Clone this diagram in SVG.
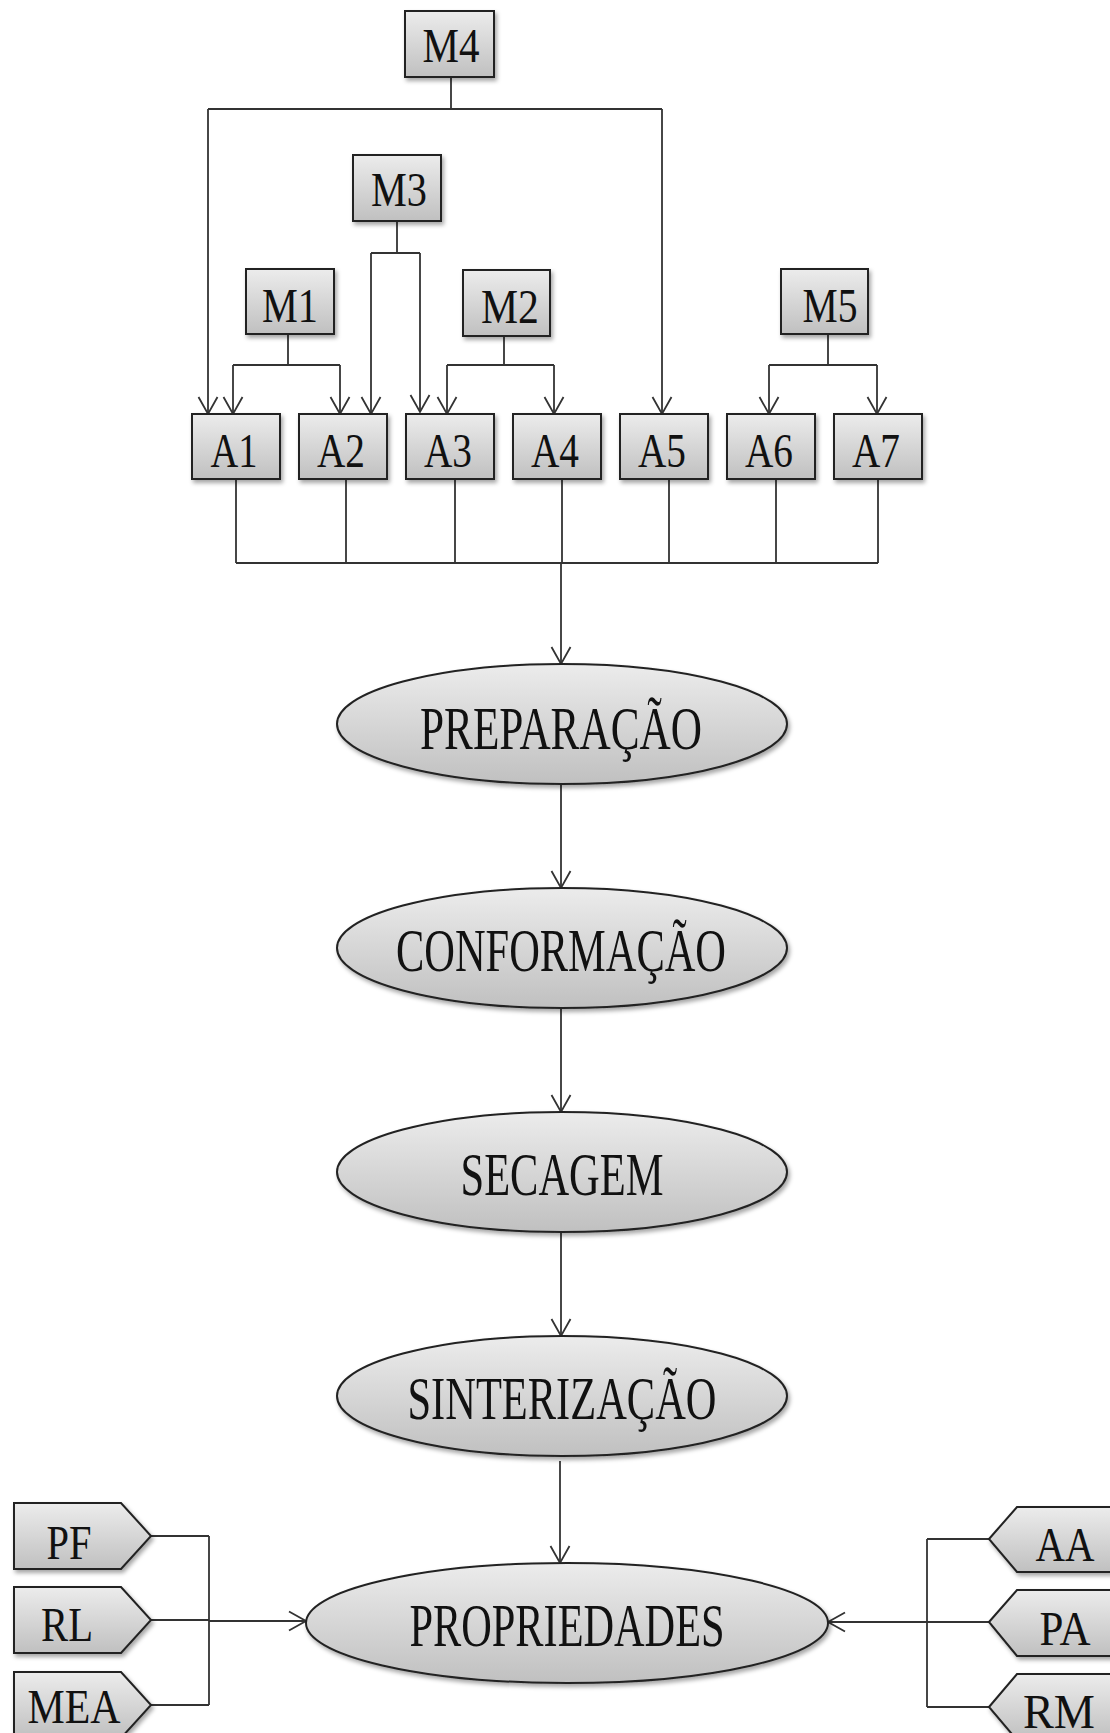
<svg xmlns="http://www.w3.org/2000/svg" width="1110" height="1733" viewBox="0 0 1110 1733">
<style>
.box{fill:url(#g);stroke:#222;stroke-width:2;filter:url(#sh)}
.ell{fill:url(#g);stroke:#222;stroke-width:2;filter:url(#sh)}
.t{font-family:"Liberation Serif","Times New Roman",serif;font-size:49px;fill:#111;text-anchor:middle}
.te{font-family:"Liberation Serif","Times New Roman",serif;font-size:62px;fill:#111;text-anchor:middle}
.c{fill:none;stroke:#333;stroke-width:1.8}
.a{fill:none;stroke:#333;stroke-width:1.8;marker-end:url(#ar)}
</style>
<defs>
<linearGradient id="g" x1="0" y1="0" x2="0" y2="1">
<stop offset="0" stop-color="#ececec"/>
<stop offset="1" stop-color="#c0c0c0"/>
</linearGradient>
<filter id="sh" x="-10%" y="-10%" width="130%" height="140%">
<feDropShadow dx="2" dy="3" stdDeviation="2" flood-color="#000" flood-opacity="0.35"/>
</filter>
<marker id="ar" markerUnits="userSpaceOnUse" markerWidth="20" markerHeight="22" viewBox="0 0 20 22" refX="18" refY="11" orient="auto">
<path d="M1,1.5 L18,11 L1,20.5" fill="none" stroke="#333" stroke-width="1.8"/>
</marker>
</defs>
<rect width="1110" height="1733" fill="#fff"/>

<g id="connectors">
<path class="c" d="M451,77 V109 M208,109 H662"/>
<path class="a" d="M208,109 V414"/>
<path class="a" d="M662,109 V414"/>
<path class="c" d="M397,221 V253 M371,253 H420"/>
<path class="a" d="M371,253 V414"/>
<path class="a" d="M420,253 V412"/>
<path class="c" d="M288,334 V365 M233,365 H340"/>
<path class="a" d="M233,365 V414"/>
<path class="a" d="M340,365 V414"/>
<path class="c" d="M504,336 V365 M447,365 H554"/>
<path class="a" d="M447,365 V414"/>
<path class="a" d="M554,365 V414"/>
<path class="c" d="M828,334 V365 M769,365 H877"/>
<path class="a" d="M769,365 V414"/>
<path class="a" d="M877,365 V414"/>
<path class="c" d="M236,479 V563 M346,479 V563 M455,479 V563 M562,479 V563 M669,479 V563 M776,479 V563 M878,479 V563 M236,563 H878"/>
<path class="a" d="M561,563 V664"/>
<path class="a" d="M561,784 V888"/>
<path class="a" d="M561,1008 V1112"/>
<path class="a" d="M561,1232 V1336"/>
<path class="a" d="M560,1461 V1563"/>
<path class="c" d="M151,1536 H209 M151,1620 H209 M151,1705 H209 M209,1536 V1705"/>
<path class="a" d="M209,1621 H306"/>
<path class="c" d="M989,1539 H927 M989,1622 H927 M989,1707 H927 M927,1539 V1707"/>
<path class="a" d="M927,1622 H828"/>
</g>

<g id="M4"><rect class="box" x="405" y="11" width="89" height="66"/><text class="t" x="451" y="62" textLength="57" lengthAdjust="spacingAndGlyphs">M4</text></g>
<g id="M3"><rect class="box" x="353" y="155" width="88" height="66"/><text class="t" x="399" y="206" textLength="56" lengthAdjust="spacingAndGlyphs">M3</text></g>
<g id="M1"><rect class="box" x="246" y="269" width="88" height="65"/><text class="t" x="290" y="322" textLength="56" lengthAdjust="spacingAndGlyphs">M1</text></g>
<g id="M2"><rect class="box" x="463" y="270" width="87" height="66"/><text class="t" x="510" y="323" textLength="58" lengthAdjust="spacingAndGlyphs">M2</text></g>
<g id="M5"><rect class="box" x="781" y="269" width="87" height="65"/><text class="t" x="830" y="322" textLength="55" lengthAdjust="spacingAndGlyphs">M5</text></g>

<g id="A1"><rect class="box" x="192" y="414" width="88" height="65"/><text class="t" x="234" y="467" textLength="47" lengthAdjust="spacingAndGlyphs">A1</text></g>
<g id="A2"><rect class="box" x="299" y="414" width="88" height="65"/><text class="t" x="341" y="467" textLength="48" lengthAdjust="spacingAndGlyphs">A2</text></g>
<g id="A3"><rect class="box" x="406" y="414" width="88" height="65"/><text class="t" x="448" y="467" textLength="48" lengthAdjust="spacingAndGlyphs">A3</text></g>
<g id="A4"><rect class="box" x="513" y="414" width="88" height="65"/><text class="t" x="555" y="467" textLength="48" lengthAdjust="spacingAndGlyphs">A4</text></g>
<g id="A5"><rect class="box" x="620" y="414" width="88" height="65"/><text class="t" x="662" y="467" textLength="48" lengthAdjust="spacingAndGlyphs">A5</text></g>
<g id="A6"><rect class="box" x="727" y="414" width="88" height="65"/><text class="t" x="769" y="467" textLength="48" lengthAdjust="spacingAndGlyphs">A6</text></g>
<g id="A7"><rect class="box" x="834" y="414" width="88" height="65"/><text class="t" x="876" y="467" textLength="48" lengthAdjust="spacingAndGlyphs">A7</text></g>

<g id="PREPARACAO"><ellipse class="ell" cx="562" cy="724" rx="225" ry="60"/><text class="te" x="561" y="749" textLength="282" lengthAdjust="spacingAndGlyphs">PREPARAÇÃO</text></g>
<g id="CONFORMACAO"><ellipse class="ell" cx="562" cy="948" rx="225" ry="60"/><text class="te" x="561" y="971" textLength="330" lengthAdjust="spacingAndGlyphs">CONFORMAÇÃO</text></g>
<g id="SECAGEM"><ellipse class="ell" cx="562" cy="1172" rx="225" ry="60"/><text class="te" x="562" y="1195" textLength="203" lengthAdjust="spacingAndGlyphs">SECAGEM</text></g>
<g id="SINTERIZACAO"><ellipse class="ell" cx="562" cy="1396" rx="225" ry="60"/><text class="te" x="562" y="1419" textLength="309" lengthAdjust="spacingAndGlyphs">SINTERIZAÇÃO</text></g>
<g id="PROPRIEDADES"><ellipse class="ell" cx="567" cy="1623" rx="261" ry="60"/><text class="te" x="567" y="1646" textLength="315" lengthAdjust="spacingAndGlyphs">PROPRIEDADES</text></g>

<g id="PF"><polygon class="box" points="14,1503 121,1503 151,1536 121,1569 14,1569"/><text class="t" x="69" y="1559" textLength="45" lengthAdjust="spacingAndGlyphs">PF</text></g>
<g id="RL"><polygon class="box" points="14,1587 121,1587 151,1620 121,1653 14,1653"/><text class="t" x="67" y="1641" textLength="52" lengthAdjust="spacingAndGlyphs">RL</text></g>
<g id="MEA"><polygon class="box" points="14,1672 121,1672 151,1705 121,1738 14,1738"/><text class="t" x="74" y="1723" textLength="93" lengthAdjust="spacingAndGlyphs">MEA</text></g>

<g id="AA"><polygon class="box" points="989,1539 1017,1507 1126,1507 1126,1572 1017,1572"/><text class="t" x="1065" y="1561" textLength="59" lengthAdjust="spacingAndGlyphs">AA</text></g>
<g id="PA"><polygon class="box" points="989,1622 1017,1590 1126,1590 1126,1656 1017,1656"/><text class="t" x="1065" y="1645" textLength="51" lengthAdjust="spacingAndGlyphs">PA</text></g>
<g id="RM"><polygon class="box" points="989,1707 1017,1674 1126,1674 1126,1740 1017,1740"/><text class="t" x="1059" y="1728" textLength="72" lengthAdjust="spacingAndGlyphs">RM</text></g>
</svg>
